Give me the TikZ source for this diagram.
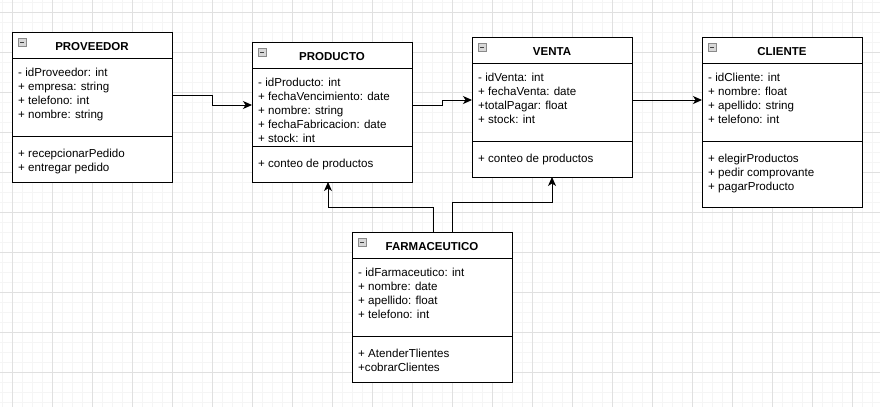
\documentclass[tikz,border=0pt]{standalone}
\usepackage{fontspec}
\setmainfont{Liberation Sans}
\usetikzlibrary{arrows.meta}
\definecolor{gmaj}{HTML}{E0E0E0}
\definecolor{gmin}{HTML}{F5F5F5}
\definecolor{iconfill}{HTML}{D8D8D8}
\definecolor{iconedge}{HTML}{8A8A8A}
\tikzset{
  cls/.style={draw=black, line width=1pt, fill=white, inner sep=0pt, outer sep=0pt, anchor=north west, minimum width=160pt},
  ttl/.style={font=\fontsize{11.5}{14}\selectfont\bfseries, inner sep=0pt, anchor=base},
  mem/.style={font=\fontsize{11.6}{14}\selectfont, inner sep=0pt, anchor=base west},
  sepl/.style={line width=1pt},
  conn/.style={line width=1pt, -{Stealth[length=9pt,width=8pt,inset=2.5pt]}},
  icon/.style={draw=iconedge, fill=iconfill, line width=0.6pt, minimum size=7.5pt, inner sep=0pt, anchor=north west},
}
\newcommand{\umlclass}[7]{%
  % #1 name, #2 x, #3 y, #4 height, #5 title, #6 attrs, #7 methods ; separator at +104
  \node[cls, minimum height=#4pt] (#1) at (#2,#3) {};
  \draw[sepl] ([yshift=-26pt]#1.north west) -- ([yshift=-26pt]#1.north east);
  \draw[sepl] ([yshift=-104pt]#1.north west) -- ([yshift=-104pt]#1.north east);
  \node[icon] (#1-icon) at ([xshift=6pt,yshift=-6pt]#1.north west) {};
  \draw[line width=0.8pt, black!75] ([xshift=1.8pt]#1-icon.center) -- ([xshift=-1.8pt]#1-icon.center);
  \node[ttl] (#1-title) at ([yshift=-18pt]#1.north) {#5};
  \foreach \t [count=\i] in {#6} {
    \node[mem] (#1-a\i) at ([xshift=6pt,yshift={-44pt-14pt*(\i-1)}]#1.north west) {\t};
  }
  \foreach \t [count=\i] in {#7} {
    \node[mem] (#1-m\i) at ([xshift=6pt,yshift={-125pt-14pt*(\i-1)}]#1.north west) {\t};
  }
}
\begin{document}
\begin{tikzpicture}[x=1pt,y=-1pt]
\useasboundingbox (0,0) rectangle (880,407);
\fill[white] (0,0) rectangle (880,407);
% grid
\foreach \k in {0,...,88} { \draw[gmin, line width=1pt] ({2+10*\k},0) -- ({2+10*\k},407); }
\foreach \k in {0,...,41} { \draw[gmin, line width=1pt] (0,{2+10*\k}) -- (880,{2+10*\k}); }
\foreach \k in {0,...,21} { \draw[gmaj, line width=1pt] ({12+40*\k},0) -- ({12+40*\k},407); }
\foreach \k in {0,...,10} { \draw[gmaj, line width=1pt] (0,{12+40*\k}) -- (880,{12+40*\k}); }

\umlclass{prov}{12}{32}{150}{PROVEEDOR}%
  {- idProveedor: int, + empresa: string, + telefono: int, + nombre: string}%
  {+ recepcionarPedido, + entregar pedido}
\umlclass{prod}{252}{42}{140}{PRODUCTO}%
  {- idProducto: int, + fechaVencimiento: date, + nombre: string, + fechaFabricacion: date, + stock: int}%
  {+ conteo de productos}
\umlclass{venta}{472}{37}{140}{VENTA}%
  {- idVenta: int, + fechaVenta: date, +totalPagar: float, + stock: int}%
  {+ conteo de productos}
\umlclass{cli}{702}{37}{170}{CLIENTE}%
  {- idCliente: int, + nombre: float, + apellido: string, + telefono: int}%
  {+ elegirProductos, + pedir comprovante, + pagarProducto}
\umlclass{farm}{352}{232}{150}{FARMACEUTICO}%
  {- idFarmaceutico: int, + nombre: date, + apellido: float, + telefono: int}%
  {+ AtenderTlientes, +cobrarClientes}

% connectors
\draw[conn] ([yshift=12pt]prov.east) -- ++(40,0) |- ([yshift=7pt]prod.west);
\draw[conn] ([yshift=7pt]prod.east) -- ++(30,0) |- ([yshift=7pt]venta.west);
\draw[conn] ([yshift=7pt]venta.east) -- ([yshift=22pt]cli.west);
\draw[conn] ([xshift=1pt]farm.north) -- ++(0,-25) -| ([xshift=-4pt]prod.south);
\draw[conn] ([xshift=20pt]farm.north) -- ++(0,-30) -| (venta.south);
\end{tikzpicture}
\end{document}
